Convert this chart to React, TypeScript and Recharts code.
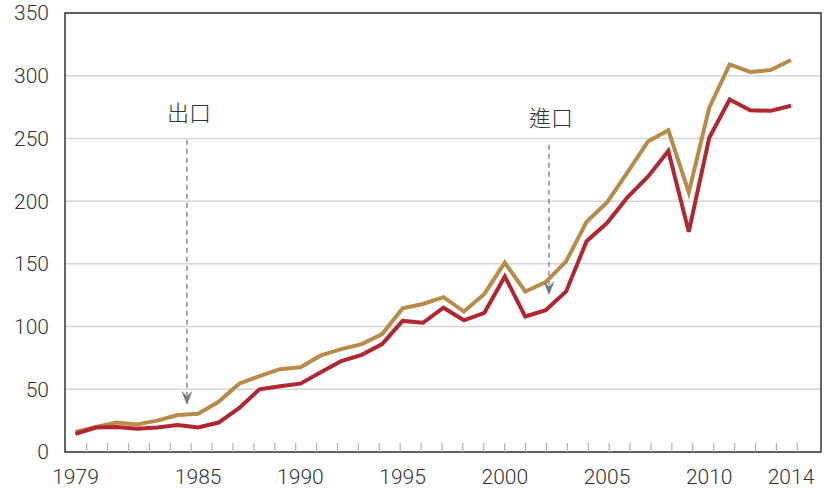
import React from 'react';
import { LineChart, Line, XAxis, YAxis, CartesianGrid, ReferenceArea, ReferenceLine } from 'recharts';

const years = [1979, 1980, 1981, 1982, 1983, 1984, 1985, 1986, 1987, 1988, 1989, 1990, 1991, 1992, 1993, 1994, 1995, 1996, 1997, 1998, 1999, 2000, 2001, 2002, 2003, 2004, 2005, 2006, 2007, 2008, 2009, 2010, 2011, 2012, 2013, 2014];
const exportsBn = [16, 20, 23.5, 22, 25, 29.5, 30.5, 40, 54.5, 60.5, 66, 67.5, 77, 82, 86, 94, 114.5, 118, 123.5, 112, 126, 151, 128, 135.5, 152, 183.5, 199, 223, 247.5, 256.5, 207, 274.5, 309, 303, 304.5, 312.5];
const importsBn = [14.5, 19.5, 20, 18.5, 19.5, 21.5, 19.5, 23.5, 35, 50, 52.5, 54.5, 63.5, 72.5, 77.5, 86, 104.5, 103, 115, 105, 111, 140, 108, 113, 128, 168, 182.5, 203, 219.5, 240, 175.5, 250.5, 281, 272.5, 272, 276];
const yTicks = [0, 50, 100, 150, 200, 250, 300, 350];
const xLabelYears = [1979, 1985, 1990, 1995, 2000, 2005, 2010, 2014];
const annotationLabels = ['出口', '進口'];
const annotationYears = [1984.45, 2002.16];
const annotationFrom = [249, 245];
const annotationTo = [37.5, 125];

const data = years.map((y, i) => ({ year: y, exp: exportsBn[i], imp: importsBn[i] }));

const X_DOMAIN: [number, number] = [1978.486, 2015.4675];
const MINOR_START = 1979.547;
const MINOR_STEP = 1.02236;
const minorTicks = Array.from({ length: 35 }, (_, k) => MINOR_START + k * MINOR_STEP);

const NUM_FONT = "Roboto, 'Liberation Sans', Arial, sans-serif";
const CJK_FONT = "'Noto Sans CJK TC', 'Noto Sans CJK SC', sans-serif";
const GOLD = '#b88b49';
const RED = '#b2262f';

const XTick = (props: any) => {
  const { x, y, payload } = props;
  const v = payload.value;
  if (xLabelYears.includes(v)) {
    return (
      <text x={x} y={y + 17} dy="0.71em" textAnchor="middle" fontSize={21} fontFamily={NUM_FONT} fontWeight={300} fill="#333">
        {v}
      </text>
    );
  }
  return <line x1={x} x2={x} y1={y} y2={y - 9} stroke="#b0b0b0" strokeWidth={1.2} />;
};

const makeArrow = (label: string) => (props: any) => {
  const { x1, y1, x2, y2 } = props;
  return (
    <g>
      <line x1={x1} y1={y1} x2={x2} y2={y2 - 10} stroke="#8a8a8a" strokeWidth={1.5} strokeDasharray="5 4" />
      <path d={`M${x2},${y2} L${x2 - 5.5},${y2 - 14} L${x2},${y2 - 9} L${x2 + 5.5},${y2 - 14} Z`} fill="#7a7a7a" />
      <text x={x1 + 2} y={y1 - 19} textAnchor="middle" fontSize={22} fontFamily={CJK_FONT} fontWeight={300} fill="#333">
        {label}
      </text>
    </g>
  );
};

export default function App() {
  return (
    <div style={{ position: 'absolute', left: 0, top: 0, width: 829, height: 491, background: '#fff' }}>
      <LineChart width={829} height={491} data={data} margin={{ top: 13, right: 8, bottom: 0, left: 0 }}>
        <CartesianGrid horizontal vertical={false} stroke="#d6d6d6" strokeWidth={1.5} />
        <XAxis
          dataKey="year"
          type="number"
          domain={X_DOMAIN}
          allowDataOverflow
          ticks={[...minorTicks, ...xLabelYears]}
          interval={0}
          tick={<XTick />}
          tickLine={false}
          axisLine={false}
          tickSize={0}
          tickMargin={0}
          height={39}
        />
        <YAxis
          domain={[0, 350]}
          ticks={yTicks}
          interval={0}
          width={65}
          tickLine={false}
          axisLine={false}
          tickSize={0}
          tickMargin={16}
          tick={{ fill: '#333', fontSize: 21, fontFamily: NUM_FONT, fontWeight: 300 }}
        />
        <ReferenceArea x1={X_DOMAIN[0]} x2={X_DOMAIN[1]} y1={0} y2={350} fill="none" stroke="#333" strokeWidth={1.5} ifOverflow="visible" />
        <Line dataKey="exp" stroke={GOLD} strokeWidth={4} dot={false} activeDot={false} isAnimationActive={false} />
        <Line dataKey="imp" stroke={RED} strokeWidth={4} dot={false} activeDot={false} isAnimationActive={false} />
        {annotationLabels.map((lab, i) => (
          <ReferenceLine
            key={lab}
            segment={[{ x: annotationYears[i], y: annotationFrom[i] }, { x: annotationYears[i], y: annotationTo[i] }]}
            ifOverflow="visible"
            shape={makeArrow(lab)}
          />
        ))}
      </LineChart>
    </div>
  );
}
